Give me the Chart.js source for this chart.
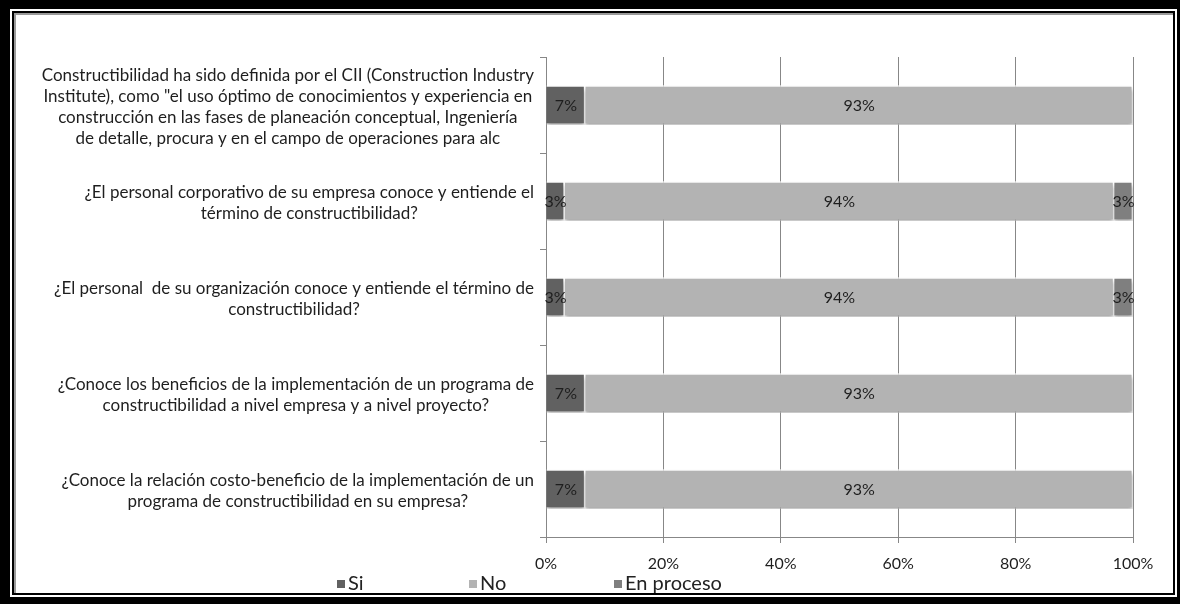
<!DOCTYPE html>
<html>
<head>
<meta charset="utf-8">
<script src="https://cdn.jsdelivr.net/npm/chart.js"></script>
<style>
  body { margin: 0; overflow: hidden; background: #fff; font-family: Lato, sans-serif; }
  .f { position: absolute; }
  #chart { position: absolute; left: 0; top: 0; }
  .leg { position: absolute; top: 572px; font-size: 20px; color: #222; line-height: 20px; }
  .leg span { display: inline-block; width: 8px; height: 8px; margin-right: 3px; vertical-align: 2px; }
</style>
</head>
<body>
<div class="f" style="left:0;top:0;width:1180px;height:604px;background:#000"></div>
<div class="f" style="left:10px;top:9px;width:1167px;height:588px;background:#fff"></div>
<div class="f" style="left:12px;top:11px;width:1159px;height:580px;border:2px solid #000;box-shadow:inset 2px 2px 0 #9a9a9a;background:#fff"></div>
<canvas id="chart" width="1180" height="604"></canvas>
<div class="leg" style="left:337px"><span style="background:#616161"></span>Si</div>
<div class="leg" style="left:469px"><span style="background:#b3b3b3"></span>No</div>
<div class="leg" style="left:614px"><span style="background:#7f7f7f"></span>En proceso</div>
<script>
// datos ======================================================================
const categories = [
  ["Constructibilidad ha sido definida por el CII (Construction Industry",
   "Institute), como \"el uso óptimo de conocimientos y experiencia en",
   "construcción en las fases de planeación conceptual, Ingeniería",
   "de detalle, procura y en el campo de operaciones para alc"],
  ["¿El personal corporativo de su empresa conoce y entiende el",
   "término de constructibilidad?"],
  ["¿El personal  de su organización conoce y entiende el término de",
   "constructibilidad?"],
  ["¿Conoce los beneficios de la implementación de un programa de",
   "constructibilidad a nivel empresa y a nivel proyecto?"],
  ["¿Conoce la relación costo-beneficio de la implementación de un",
   "programa de constructibilidad en su empresa?"],
];
const si = [6.7, 3.2, 3.2, 6.7, 6.7];
const no = [93.3, 93.6, 93.6, 93.3, 93.3];
const enProceso = [0, 3.2, 3.2, 0, 0];
const xTicks = [0, 20, 40, 60, 80, 100];

const textColor = "#1e1e1e";
const gridColor = "#878787";

// sombra debajo de las barras
const shadowPlugin = {
  id: "shadow",
  beforeDatasetsDraw(chart) {
    const ctx = chart.ctx;
    ctx.save();
    ctx.shadowColor = "rgba(0,0,0,0.35)";
    ctx.shadowBlur = 4;
    ctx.shadowOffsetY = 3;
  },
  afterDatasetsDraw(chart) {
    chart.ctx.restore();
  },
};

// etiquetas de categoria + etiquetas de datos
const labelPlugin = {
  id: "labels",
  afterDraw(chart) {
    const ctx = chart.ctx;
    const yScale = chart.scales.y;
    ctx.save();
    ctx.fillStyle = textColor;
    ctx.font = "17px Lato";
    ctx.textAlign = "center";
    ctx.textBaseline = "middle";
    const lineH = 21;
    categories.forEach((lines, i) => {
      const y = yScale.getPixelForValue(i);
      const maxW = Math.max(...lines.map((l) => ctx.measureText(l).width));
      const cx = chart.chartArea.left - 12 - maxW / 2;
      const y0 = y + 2 - ((lines.length - 1) * lineH) / 2;
      lines.forEach((l, k) => ctx.fillText(l, cx, y0 + k * lineH));
    });
    ctx.font = "16px Lato";
    chart.data.datasets.forEach((ds, di) => {
      const meta = chart.getDatasetMeta(di);
      meta.data.forEach((bar, i) => {
        const v = ds.data[i];
        if (!v) return;
        ctx.fillText(Math.round(v) + "%", (bar.x + bar.base) / 2, bar.y + 1);
      });
    });
    ctx.restore();
  },
};

new Chart(document.getElementById("chart"), {
  type: "bar",
  data: {
    labels: categories,
    datasets: [
      { label: "Si", data: si, backgroundColor: "#616161" },
      { label: "No", data: no, backgroundColor: "#b3b3b3" },
      { label: "En proceso", data: enProceso, backgroundColor: "#7f7f7f" },
    ],
  },
  options: {
    indexAxis: "y",
    responsive: false,
    animation: false,
    layout: { padding: { left: 0, top: 57, right: 47, bottom: 0 } },
    datasets: {
      bar: {
        categoryPercentage: 1,
        barPercentage: 0.41,
        borderColor: "#fff",
        borderWidth: 1.5,
      },
    },
    plugins: { legend: { display: false }, tooltip: { enabled: false } },
    scales: {
      x: {
        stacked: true,
        min: 0,
        max: 100,
        afterBuildTicks: (scale) => {
          scale.ticks = xTicks.map((v) => ({ value: v }));
        },
        afterFit: (scale) => {
          scale.height = 67;
        },
        ticks: {
          callback: (v) => v + "%",
          color: textColor,
          font: { family: "Lato", size: 16 },
          padding: 11,
          maxRotation: 0,
        },
        grid: { color: gridColor, tickLength: 6 },
        border: { color: gridColor },
      },
      y: {
        stacked: true,
        offset: true,
        afterFit: (scale) => {
          scale.width = 546;
        },
        ticks: { display: false },
        grid: {
          offset: true,
          drawOnChartArea: false,
          tickLength: 6,
          color: gridColor,
        },
        border: { color: gridColor },
      },
    },
  },
  plugins: [shadowPlugin, labelPlugin],
});
</script>
</body>
</html>
